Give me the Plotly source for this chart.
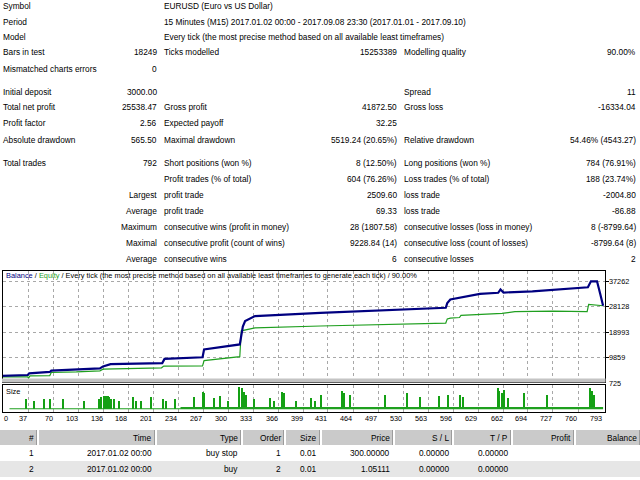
import plotly.graph_objects as go

W, H = 640, 480
FONT = "Liberation Sans, Arial, sans-serif"
FS = 8.3      # report text size
FC = 7.4      # chart text size
FT = 7.3      # tick label size

# ---------------- data ----------------
top_labels = ["Symbol", "Period", "Model", "Bars in test", "Mismatched charts errors"]
symbol_text = "EURUSD (Euro vs US Dollar)"
period_text = "15 Minutes (M15) 2017.01.02 00:00 - 2017.09.08 23:30 (2017.01.01 - 2017.09.10)"
model_text = "Every tick (the most precise method based on all available least timeframes)"
bars_in_test = "18249"
ticks_modelled = "15253389"
modelling_quality = "90.00%"
mismatched_errors = "0"

stat_label1 = ["Initial deposit", "Total net profit", "Profit factor", "Absolute drawdown",
               "Total trades", "", "", "", "", "", ""]
stat_value1 = ["3000.00", "25538.47", "2.56", "565.50",
               "792", "", "Largest", "Average", "Maximum", "Maximal", "Average"]
stat_label2 = ["", "Gross profit", "Expected payoff", "Maximal drawdown",
               "Short positions (won %)", "Profit trades (% of total)", "profit trade", "profit trade",
               "consecutive wins (profit in money)", "consecutive profit (count of wins)", "consecutive wins"]
stat_value2 = ["", "41872.50", "32.25", "5519.24 (20.65%)",
               "8 (12.50%)", "604 (76.26%)", "2509.60", "69.33",
               "28 (1807.58)", "9228.84 (14)", "6"]
stat_label3 = ["Spread", "Gross loss", "", "Relative drawdown",
               "Long positions (won %)", "Loss trades (% of total)", "loss trade", "loss trade",
               "consecutive losses (loss in money)", "consecutive loss (count of losses)", "consecutive losses"]
stat_value3 = ["11", "-16334.04", "", "54.46% (4543.27)",
               "784 (76.91%)", "188 (23.74%)", "-2004.80", "-86.88",
               "8 (-8799.64)", "-8799.64 (8)", "2"]

bal_trade = [0, 36, 38, 65, 67, 100, 131, 135, 145, 213, 216, 266, 268, 315, 319, 322, 335, 421, 500, 586,
             588, 592, 631, 655, 658, 662, 700, 773, 777, 785, 789, 793]
bal_value = [3300, 3600, 4200, 4700, 5200, 5700, 6000, 6700, 7500, 7900, 9400, 10000, 12800, 14600, 21000,
             23000, 24800, 26000, 26800, 27800, 29500, 30800, 32800, 33200, 34400, 33300, 33700, 35200,
             37338, 37338, 33000, 28538]
eq_trade = [0, 36, 37, 39, 65, 67, 100, 131, 135, 212, 215, 266, 268, 315, 317, 335, 421, 500, 586, 588,
            592, 604, 606, 660, 677, 727, 772, 774, 793]
eq_value = [2900, 2900, 2500, 3300, 3400, 4500, 4700, 5100, 5700, 6200, 6800, 6900, 8800, 10200, 19500,
            20600, 21250, 21700, 22300, 23800, 24100, 24300, 25100, 25800, 26400, 26600, 26400, 29000, 28538]

spike_trade = [33, 44, 57, 65, 82, 109, 129, 132, 136, 138, 141, 142, 145, 149, 155, 174, 178, 184, 197, 214,
               218, 229, 254, 266, 268, 280, 289, 299, 314, 317, 320, 322, 333, 354, 359, 370, 373, 388, 408, 414,
               421, 449, 451, 459, 506, 535, 552, 576, 588, 604, 608, 654, 655, 660, 662, 668, 688, 719, 775, 778,
               781]
spike_size = [0.09, 0.08, 0.09, 0.09, 0.09, 0.08, 0.09, 0.11, 0.12, 0.12, 0.12, 0.11, 0.09, 0.09, 0.08, 0.11,
              0.08, 0.08, 0.11, 0.09, 0.08, 0.09, 0.11, 0.16, 0.15, 0.10, 0.12, 0.08, 0.20, 0.19, 0.16, 0.13,
              0.09, 0.10, 0.08, 0.16, 0.15, 0.08, 0.10, 0.08, 0.13, 0.17, 0.15, 0.13, 0.13, 0.15, 0.11, 0.12,
              0.13, 0.13, 0.11, 0.19, 0.17, 0.15, 0.18, 0.10, 0.15, 0.13, 0.19, 0.17, 0.13]
base_start = [12, 237]
base_end = [237, 793]
base_size = [0.01, 0.02]

x_ticks = [0, 37, 70, 103, 136, 168, 201, 234, 267, 300, 333, 366, 399, 431, 464, 497, 530, 563, 596, 629,
           662, 694, 727, 760, 793]
y_ticks = [725, 9859, 18993, 28128, 37262]

table_cols = ["#", "Time", "Type", "Order", "Size", "Price", "S / L", "T / P", "Profit", "Balance"]
table_row1 = ["1", "2017.01.02 00:00", "buy stop", "1", "0.01", "300.00000", "0.00000", "0.00000", "", ""]
table_row2 = ["2", "2017.01.02 00:00", "buy", "2", "0.01", "1.05111", "0.00000", "0.00000", "", ""]


# ---------------- helpers ----------------
def X(px):
    return px / W


def Y(py):
    return 1 - py / H


annotations = []
shapes = []


def txt(px, py, s, anchor="left", size=FS, color="black", xref="paper", yref="paper", x=None, y=None):
    if s == "":
        return
    annotations.append(dict(
        x=X(px) if x is None else x, y=Y(py) if y is None else y, text=s, showarrow=False,
        xanchor=anchor, yanchor="middle", xref=xref, yref=yref, borderpad=0,
        font=dict(size=size, color=color, family=FONT)))


def rect(x0, y0, x1, y1, fill, layer="below"):
    shapes.append(dict(type="rect", xref="paper", yref="paper", x0=X(x0), x1=X(x1), y0=Y(y1), y1=Y(y0),
                       fillcolor=fill, line=dict(width=0), layer=layer))


# ---------------- header text ----------------
C1L, C1R, C2L, C2R, C3L, C3R = 2, 158, 163, 398, 403, 637
top_y = [6, 21.7, 36.7, 52.3, 69]
for lab, yy in zip(top_labels, top_y):
    txt(C1L, yy, lab)
txt(C2L, top_y[0], symbol_text)
txt(C2L, top_y[1], period_text)
txt(C2L, top_y[2], model_text)
txt(C1R, top_y[3], bars_in_test, "right")
txt(C2L, top_y[3], "Ticks modelled")
txt(C2R, top_y[3], ticks_modelled, "right")
txt(C3L, top_y[3], "Modelling quality")
txt(C3R, top_y[3], modelling_quality, "right")
txt(C1R, top_y[4], mismatched_errors, "right")

stat_y = [91.7, 107.3, 123.3, 140, 162.7, 178.7, 195, 210.7, 226.7, 243.3, 259]
for i, yy in enumerate(stat_y):
    txt(C1L, yy, stat_label1[i])
    txt(C1R, yy, stat_value1[i], "right")
    txt(C2L, yy, stat_label2[i])
    txt(C2R, yy, stat_value2[i], "right")
    txt(C3L, yy, stat_label3[i])
    txt(C3R, yy, stat_value3[i], "right")

# ---------------- chart ----------------
PL, PR = 2.5, 605
MT, MB = 271, 382
ST, SB = 385, 412
XR = [2.8, 795.5]
Y_PER_PX = 360.0
Y_BASE_PX = 383.0

fig = go.Figure()
fig.add_trace(go.Scatter(x=eq_trade, y=eq_value, mode="lines", line=dict(color="#1f9f1f", width=1.2),
                         xaxis="x", yaxis="y", hoverinfo="skip"))
fig.add_trace(go.Scatter(x=bal_trade, y=bal_value, mode="lines", line=dict(color="#000080", width=2.2),
                         xaxis="x", yaxis="y", hoverinfo="skip"))

bx, by = [], []
for s, e, v in zip(base_start, base_end, base_size):
    bx += [s, e]
    by += [v, v]
fig.add_trace(go.Scatter(x=bx, y=by, mode="lines", line=dict(color="#1fa01f", width=0, shape="hv"),
                         fill="tozeroy", fillcolor="#1fa01f", xaxis="x2", yaxis="y2", hoverinfo="skip"))
fig.add_trace(go.Bar(x=spike_trade, y=spike_size, width=1.6, marker=dict(color="#14a014", line=dict(width=0)),
                     xaxis="x2", yaxis="y2", hoverinfo="skip"))

grid = dict(showgrid=True, gridcolor="#a8a8a8", griddash="dot", gridwidth=1, zeroline=False,
            showline=True, linecolor="black", linewidth=1, mirror=True)
y_lo = y_ticks[0] - (MB - Y_BASE_PX) * Y_PER_PX
y_hi = y_ticks[-1] + (Y_BASE_PX - MT) * Y_PER_PX - (y_ticks[-1] - y_ticks[0])

fig.update_layout(
    width=W, height=H, margin=dict(l=0, r=0, t=0, b=0),
    paper_bgcolor="white", plot_bgcolor="white", showlegend=False, bargap=0,
    xaxis=dict(domain=[X(PL), X(PR)], range=XR, tickvals=x_ticks[1:-1], showticklabels=False,
               anchor="y", ticks="", **grid),
    yaxis=dict(domain=[Y(MB), Y(MT)], range=[y_lo, y_hi], tickvals=y_ticks[1:], showticklabels=False,
               side="right", ticks="outside", ticklen=3, tickcolor="black", anchor="x", **grid),
    xaxis2=dict(domain=[X(PL), X(PR)], range=XR, matches="x", tickvals=x_ticks[1:-1], showticklabels=False,
                anchor="y2", ticks="", **grid),
    yaxis2=dict(domain=[Y(SB), Y(ST)], range=[-0.0245, 0.221], showgrid=False, zeroline=False,
                showticklabels=False, showline=True, linecolor="black", linewidth=1, mirror=True, anchor="x2"),
    font=dict(family=FONT),
)

# gray band under main chart
rect(2, 378.5, 605.5, 382.5, "#c4c4c4", layer="above")

# chart title
title = ("<span style='color:#000080'>Balance</span> / <span style='color:#1f9f1f'>Equity</span> / "
         "Every tick (the most precise method based on all available least timeframes to generate each tick) / 90.00%")
txt(5, 275.5, title, size=FC)
txt(5, 391.5, "Size", size=FC)

# axis labels (y labels placed on the axis scale, converted to page position)
for v in y_ticks:
    py = Y_BASE_PX - (v - y_ticks[0]) / Y_PER_PX
    txt(608, py, str(v), "left", size=FT)
for v in x_ticks:
    anchor = "left" if v == 0 else "right"
    txt(0, 418, str(v), anchor, size=FT, x=(v if v else XR[0]), xref="x2")

# ---------------- table ----------------
col_left = [0, 39, 157, 243, 286, 322, 395, 454, 513, 576]
col_right = [37, 155, 241, 284, 320, 393, 452, 511, 574, 640]
rect(0, 461, 640, 477, "#e6e6e6")
for l, r in zip(col_left, col_right):
    rect(l, 430, r, 445, "#cacaca")
    rect(r - 1, 430, r, 445, "#9c9c9c")
for i in range(len(table_cols)):
    txt(col_right[i] - 2.5, 437.7, table_cols[i], "right")
    txt(col_right[i] - 2.5, 452.7, table_row1[i], "right")
    txt(col_right[i] - 2.5, 469.3, table_row2[i], "right")

fig.update_layout(annotations=annotations, shapes=shapes)
fig.write_html("out.html", config={"displayModeBar": False},
               post_script="document.body.style.margin='0px';document.body.style.padding='0px';")
